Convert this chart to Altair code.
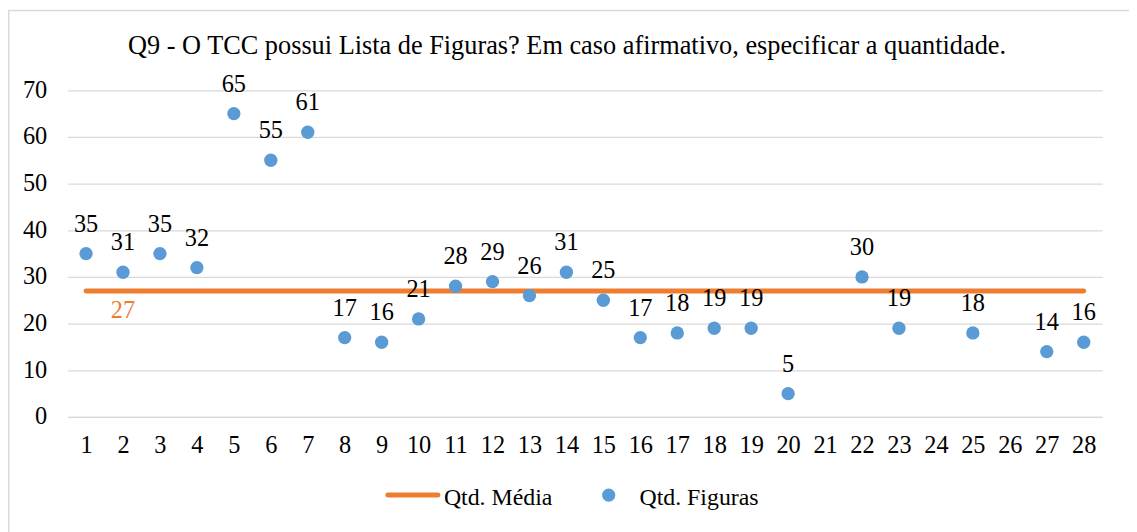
import altair as alt
import pandas as pd

categories = list(range(1, 29))
figuras_x = [1, 2, 3, 4, 5, 6, 7, 8, 9, 10, 11, 12, 13, 14, 15, 16, 17, 18, 19, 20, 22, 23, 25, 27, 28]
figuras_y = [35, 31, 35, 32, 65, 55, 61, 17, 16, 21, 28, 29, 26, 31, 25, 17, 18, 19, 19, 5, 30, 19, 18, 14, 16]
media_value = 27
media_label_x = 2
y_ticks = [0, 10, 20, 30, 40, 50, 60, 70]
title_text = "Q9 - O TCC possui Lista de Figuras? Em caso afirmativo, especificar a quantidade."
legend_labels = ["Qtd. Média", "Qtd. Figuras"]

ORANGE = "#ED7D31"
BLUE = "#5B9BD5"
FONT = "Liberation Serif"
FS = 24.5

pts = pd.DataFrame({"x": figuras_x, "y": figuras_y})
mean_df = pd.DataFrame({"x": categories, "y": [media_value] * len(categories)})
mean_lab = pd.DataFrame({"x": [media_label_x], "y": [media_value], "t": [str(media_value)]})
one = pd.DataFrame({"a": [0]})

xenc = alt.X("x:O", scale=alt.Scale(domain=categories, paddingInner=0, paddingOuter=0),
             axis=alt.Axis(title=None, labelAngle=0, labelFont=FONT, labelFontSize=FS,
                           labelColor="#000000", ticks=False, domain=True, domainColor="#D9D9D9",
                           domainWidth=1.3, labelPadding=17, grid=False))
yenc = alt.Y("y:Q", scale=alt.Scale(domain=[0, 70], nice=False),
             axis=alt.Axis(title=None, values=y_ticks, labelFont=FONT, labelFontSize=FS,
                           labelColor="#000000", ticks=False, domain=False, grid=True,
                           gridColor="#D9D9D9", gridWidth=1.3, labelPadding=21))

border = alt.Chart(one).mark_rect(fill="transparent", stroke="#D9D9D9", strokeWidth=1.5, clip=False).encode(
    x=alt.value(-59.3), x2=alt.value(1090), y=alt.value(-80.3), y2=alt.value(520))

base = alt.Chart(pts)

mean_line = alt.Chart(mean_df).mark_line(color=ORANGE, strokeWidth=5, strokeCap="round").encode(
    x=xenc, y=yenc)

points = base.mark_circle(color=BLUE, opacity=1, size=180).encode(x=xenc, y=yenc)

labels = base.mark_text(font=FONT, fontSize=FS, color="#000000", baseline="alphabetic", dy=-22).encode(
    x=xenc, y=yenc, text=alt.Text("y:Q"))

mlabel = alt.Chart(mean_lab).mark_text(font=FONT, fontSize=FS, color=ORANGE, baseline="alphabetic", dy=27).encode(
    x=xenc, y=yenc, text="t:N")

title = alt.Chart(one).mark_text(font=FONT, fontSize=26.5, color="#000000", baseline="alphabetic", align="center").encode(
    x=alt.value(503), y=alt.value(-37), text=alt.value(title_text))

leg_line = alt.Chart(one).mark_rule(color=ORANGE, strokeWidth=5, strokeCap="round").encode(
    x=alt.value(322.5), x2=alt.value(373), y=alt.value(407.7))
leg_t1 = alt.Chart(one).mark_text(font=FONT, fontSize=24, color="#000000", align="left", baseline="alphabetic").encode(
    x=alt.value(379), y=alt.value(417.5), text=alt.value(legend_labels[0]))
leg_pt = alt.Chart(one).mark_point(filled=True, shape="circle", color=BLUE, opacity=1, size=177).encode(
    x=alt.value(545), y=alt.value(407.7))
leg_t2 = alt.Chart(one).mark_text(font=FONT, fontSize=24, color="#000000", align="left", baseline="alphabetic").encode(
    x=alt.value(576), y=alt.value(417.5), text=alt.value(legend_labels[1]))

chart = alt.layer(border, mean_line, points, labels, mlabel, title, leg_line, leg_t1, leg_pt, leg_t2).properties(
    width=1042, height=329,
    autosize=alt.AutoSizeParams(type="none"),
    padding={"left": 60, "top": 81, "right": 27, "bottom": 114},
    background="white",
).configure_view(stroke=None)

chart.save("out.html", embed_options={"renderer": "svg", "actions": False})
